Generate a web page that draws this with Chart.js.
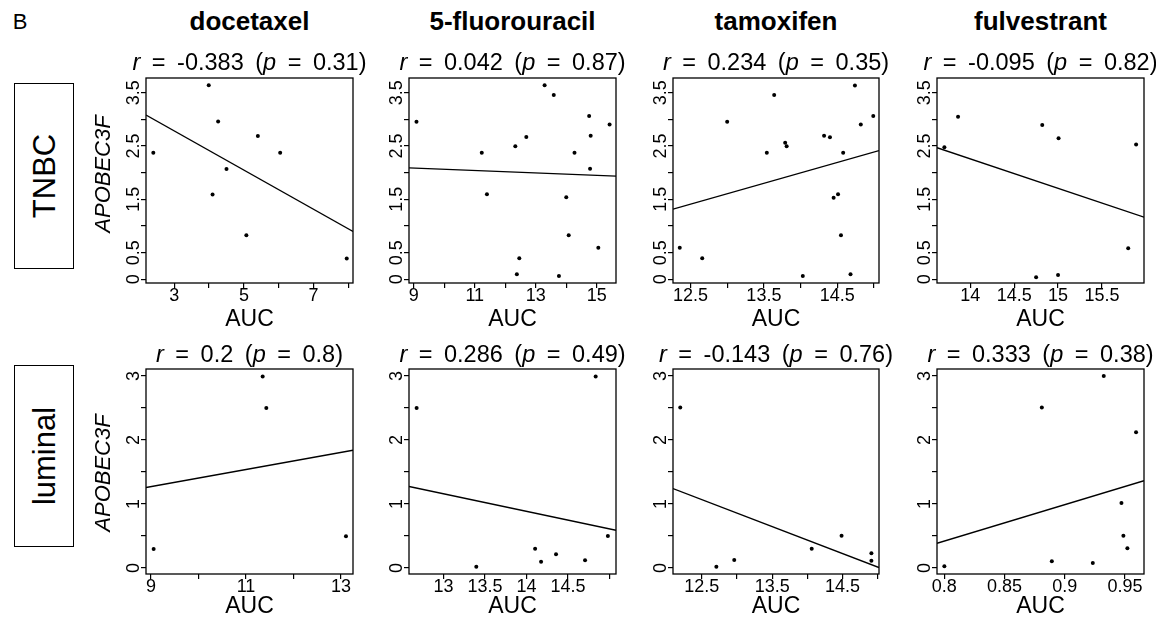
<!DOCTYPE html>
<html>
<head>
<meta charset="utf-8">
<script src="https://cdn.jsdelivr.net/npm/chart.js@4.4.1/dist/chart.umd.min.js"></script>
<style>
  html, body { margin: 0; padding: 0; background: #fff; }
  #fig { position: relative; width: 1156px; height: 618px; overflow: hidden; background: #fff;
         font-family: 'Liberation Sans', Arial, Helvetica, sans-serif; color: #000; }
  #fig canvas { position: absolute; }
  .lbl { position: absolute; white-space: pre; line-height: 1; transform: translate(-50%, -50%); }
  .rot { transform: translate(-50%, -50%) rotate(-90deg); }
  .drug { font-weight: bold; font-size: 26px; }
  .stat { font-size: 23.5px; word-spacing: 5px; }
  .auc { font-size: 23px; }
  .gene { font-size: 22px; font-style: italic; }
  .rowbox { position: absolute; border: 1.6px solid #000; box-sizing: border-box; }
  .rowtxt { font-size: 31px; }
</style>
</head>
<body>
<div id="fig"></div>
<script>
// ---- data: AUC (x) and APOBEC3F expression (y) per subtype and drug ----
const drugs = ['docetaxel', '5-fluorouracil', 'tamoxifen', 'fulvestrant'];
const subtypes = ['TNBC', 'luminal'];

const tnbcDocetaxelAuc = [2.40, 3.99, 4.26, 5.40, 6.04, 4.50, 4.10, 5.07, 7.95];
const tnbcDocetaxelA3f = [2.375, 3.64, 2.96, 2.69, 2.375, 2.07, 1.59, 0.825, 0.39];

const tnbcFluorouracilAuc = [9.09, 11.23, 11.40, 12.33, 12.69, 13.29, 13.59, 12.46, 12.38,
                             13.76, 14.00, 14.08, 14.27, 14.75, 14.80, 14.78, 15.05, 15.42];
const tnbcFluorouracilA3f = [2.956, 2.375, 1.594, 2.494, 2.669, 3.638, 3.456, 0.394, 0.094,
                             0.0625, 1.5375, 0.825, 2.375, 3.0625, 2.694, 2.075, 0.594, 2.906];

const tnbcTamoxifenAuc = [12.354, 12.66, 13.00, 13.54, 13.64, 13.79, 13.81, 14.03, 14.32,
                          14.40, 14.45, 14.51, 14.58, 14.55, 14.68, 14.74, 14.82, 14.99];
const tnbcTamoxifenA3f = [0.594, 0.394, 2.956, 2.375, 3.456, 2.5625, 2.494, 0.0625, 2.694,
                          2.6625, 1.531, 1.594, 2.375, 0.825, 0.094, 3.6375, 2.906, 3.0625];

const tnbcFulvestrantAuc = [13.704, 13.86, 14.82, 15.006, 15.89, 15.80, 14.75, 15.00];
const tnbcFulvestrantA3f = [2.475, 3.05, 2.894, 2.644, 2.531, 0.581, 0.0375, 0.081];

const luminalDocetaxelAuc = [9.056, 11.351, 11.428, 13.105];
const luminalDocetaxelA3f = [0.296, 2.99, 2.50, 0.494];

const luminalFluorouracilAuc = [12.675, 13.394, 14.103, 14.175, 14.355, 14.705, 14.833, 14.98];
const luminalFluorouracilA3f = [2.50, 0.021, 0.30, 0.099, 0.213, 0.12, 2.99, 0.499];

const luminalTamoxifenAuc = [12.194, 12.707, 12.961, 14.062, 14.486, 14.91, 14.91];
const luminalTamoxifenA3f = [2.506, 0.021, 0.125, 0.30, 0.504, 0.229, 0.114];

const luminalFulvestrantAuc = [0.800, 0.8809, 0.8892, 0.9232, 0.9323, 0.9470, 0.9486, 0.9519, 0.9591];
const luminalFulvestrantA3f = [0.026, 2.506, 0.104, 0.078, 3.00, 1.014, 0.504, 0.307, 2.122];

// correlation statistics printed above each panel
const tnbcR = ['-0.383', '0.042', '0.234', '-0.095'];
const tnbcP = ['0.31', '0.87', '0.35', '0.82'];
const luminalR = ['0.2', '0.286', '-0.143', '0.333'];
const luminalP = ['0.8', '0.49', '0.76', '0.38'];

// tick values (all ticks) and the subset that carries a label
const tnbcYTicks = [0, 0.5, 1, 1.5, 2, 2.5, 3, 3.5];
const tnbcYLabeled = [0, 0.5, 1.5, 2.5, 3.5];
const luminalYTicks = [0, 0.5, 1, 1.5, 2, 2.5, 3];
const luminalYLabeled = [0, 1, 2, 3];

const xTicksTnbc = [
  [3, 4, 5, 6, 7, 8],
  [9, 10, 11, 12, 13, 14, 15],
  [12.5, 13, 13.5, 14, 14.5, 15],
  [14, 14.5, 15, 15.5]
];
const xLabeledTnbc = [
  [3, 5, 7],
  [9, 11, 13, 15],
  [12.5, 13.5, 14.5],
  [14, 14.5, 15, 15.5]
];
const xTicksLuminal = [
  [9, 10, 11, 12, 13],
  [13, 13.5, 14, 14.5, 15],
  [12.5, 13, 13.5, 14, 14.5, 15],
  [0.8, 0.85, 0.9, 0.95]
];
const xLabeledLuminal = [
  [9, 11, 13],
  [13, 13.5, 14, 14.5],
  [12.5, 13.5, 14.5],
  [0.8, 0.85, 0.9, 0.95]
];

// ---- layout ----
const FONT = "'Liberation Sans', Arial, Helvetica, sans-serif";
const colBox = [[146, 353], [409, 616], [673, 879], [937, 1144]];
const rowBox = [[78, 283], [369, 574]];
const rowYRange = [[-0.069, 3.776], [-0.094, 3.109]];
const xRanges = [
  [[2.19, 8.13], [8.845, 15.63], [12.262, 15.068], [13.62, 15.98]],
  [[8.895, 13.253], [12.583, 15.078], [12.091, 15.018], [0.7939, 0.9657]]
];

const PAD_L = 60, PAD_R = 8, PAD_T = 8, PAD_B = 30;

function leastSquares(xs, ys) {
  const n = xs.length;
  const mx = xs.reduce((s, v) => s + v, 0) / n;
  const my = ys.reduce((s, v) => s + v, 0) / n;
  let sxy = 0, sxx = 0;
  for (let i = 0; i < n; i++) { sxy += (xs[i] - mx) * (ys[i] - my); sxx += (xs[i] - mx) ** 2; }
  const slope = sxy / sxx;
  return { slope, intercept: my - slope * mx };
}

// frame around the plot region plus R-style tick labels
const panelDecor = {
  id: 'panelDecor',
  afterDraw(chart) {
    const { ctx, chartArea: a } = chart;
    const o = chart.options.plugins.panelDecor;
    ctx.save();
    ctx.strokeStyle = '#000';
    ctx.lineWidth = 1.3;
    ctx.strokeRect(a.left, a.top, a.right - a.left, a.bottom - a.top);
    ctx.fillStyle = '#000';
    ctx.font = '18px ' + FONT;
    // x tick labels
    ctx.textAlign = 'center';
    ctx.textBaseline = 'alphabetic';
    const xs = chart.scales.x;
    o.xLabeled.forEach(v => {
      ctx.fillText(String(v), xs.getPixelForValue(v), a.bottom + 17.5);
    });
    // y tick labels, parallel to the axis
    const ys = chart.scales.y;
    o.yLabeled.forEach(v => {
      ctx.save();
      ctx.translate(a.left - 7, ys.getPixelForValue(v));
      ctx.rotate(-Math.PI / 2);
      ctx.textAlign = 'center';
      ctx.textBaseline = 'alphabetic';
      ctx.fillText(String(v), 0, 0);
      ctx.restore();
    });
    ctx.restore();
  }
};

const fig = document.getElementById('fig');

function addLabel(text, cls, x, y, html) {
  const d = document.createElement('div');
  d.className = 'lbl ' + cls;
  if (html) d.innerHTML = text; else d.textContent = text;
  d.style.left = x + 'px';
  d.style.top = y + 'px';
  fig.appendChild(d);
  return d;
}

function drawPanel(row, col, xs, ys, xTicks, xLabeled, yTicks, yLabeled) {
  const [bl, br] = colBox[col];
  const [bt, bb] = rowBox[row];
  const w = br - bl, h = bb - bt;
  const cv = document.createElement('canvas');
  cv.width = w + PAD_L + PAD_R;
  cv.height = h + PAD_T + PAD_B;
  cv.style.left = (bl - PAD_L) + 'px';
  cv.style.top = (bt - PAD_T) + 'px';
  fig.appendChild(cv);

  const [xMin, xMax] = xRanges[row][col];
  const [yMin, yMax] = rowYRange[row];
  const fit = leastSquares(xs, ys);
  const points = xs.map((x, i) => ({ x, y: ys[i] }));
  const fitLine = [xMin, xMax].map(x => ({ x, y: fit.intercept + fit.slope * x }));

  const tickGrid = { display: true, drawOnChartArea: false, drawTicks: true, tickLength: 5,
                     color: '#000', lineWidth: 1.2 };

  new Chart(cv.getContext('2d'), {
    type: 'scatter',
    data: {
      datasets: [
        { data: points, pointRadius: 2, pointBorderWidth: 0,
          pointBackgroundColor: '#000', backgroundColor: '#000', showLine: false },
        { type: 'line', data: fitLine, borderColor: '#000', borderWidth: 1.4,
          pointRadius: 0, fill: false, tension: 0 }
      ]
    },
    options: {
      responsive: false,
      animation: false,
      devicePixelRatio: 1,
      layout: { padding: { left: 0, right: PAD_R, top: PAD_T, bottom: 0 } },
      plugins: {
        legend: { display: false },
        tooltip: { enabled: false },
        panelDecor: { xLabeled, yLabeled }
      },
      scales: {
        x: {
          type: 'linear', position: 'bottom', min: xMin, max: xMax,
          grid: tickGrid, border: { display: false },
          ticks: { display: false },
          afterBuildTicks: s => { s.ticks = xTicks.map(v => ({ value: v })); },
          afterFit: s => { s.height = PAD_B; }
        },
        y: {
          type: 'linear', position: 'left', min: yMin, max: yMax,
          grid: tickGrid, border: { display: false },
          ticks: { display: false },
          afterBuildTicks: s => { s.ticks = yTicks.map(v => ({ value: v })); },
          afterFit: s => { s.width = PAD_L; }
        }
      }
    },
    plugins: [panelDecor]
  });
}

const tnbcData = [
  [tnbcDocetaxelAuc, tnbcDocetaxelA3f],
  [tnbcFluorouracilAuc, tnbcFluorouracilA3f],
  [tnbcTamoxifenAuc, tnbcTamoxifenA3f],
  [tnbcFulvestrantAuc, tnbcFulvestrantA3f]
];
const luminalData = [
  [luminalDocetaxelAuc, luminalDocetaxelA3f],
  [luminalFluorouracilAuc, luminalFluorouracilA3f],
  [luminalTamoxifenAuc, luminalTamoxifenA3f],
  [luminalFulvestrantAuc, luminalFulvestrantA3f]
];

for (let c = 0; c < 4; c++) {
  drawPanel(0, c, tnbcData[c][0], tnbcData[c][1], xTicksTnbc[c], xLabeledTnbc[c], tnbcYTicks, tnbcYLabeled);
  drawPanel(1, c, luminalData[c][0], luminalData[c][1], xTicksLuminal[c], xLabeledLuminal[c], luminalYTicks, luminalYLabeled);
}

// ---- text around the panels ----
addLabel('B', '', 20, 22).style.fontSize = '22px';

const statY = [63, 355];
const aucY = [318, 605];
const statR = [tnbcR, luminalR];
const statP = [tnbcP, luminalP];
for (let c = 0; c < 4; c++) {
  const cx = (colBox[c][0] + colBox[c][1]) / 2;
  addLabel(drugs[c], 'drug', cx, 21);
  for (let r = 0; r < 2; r++) {
    addLabel('<i>r</i> = ' + statR[r][c] + ' (<i>p</i> = ' + statP[r][c] + ')', 'stat', cx, statY[r], true);
    addLabel('AUC', 'auc', cx, aucY[r]);
  }
}

// y-axis gene label for each row
addLabel('APOBEC3F', 'gene rot', 103, 174);
addLabel('APOBEC3F', 'gene rot', 103, 473);

// boxed subtype labels
const subtypeBoxes = [[14, 83, 60, 186], [14, 365, 60, 182]];
subtypes.forEach((s, i) => {
  const [x, y, w, h] = subtypeBoxes[i];
  const b = document.createElement('div');
  b.className = 'rowbox';
  b.style.left = x + 'px'; b.style.top = y + 'px';
  b.style.width = w + 'px'; b.style.height = h + 'px';
  fig.appendChild(b);
  addLabel(s, 'rowtxt rot', x + w / 2, y + h / 2);
});
</script>
</body>
</html>
